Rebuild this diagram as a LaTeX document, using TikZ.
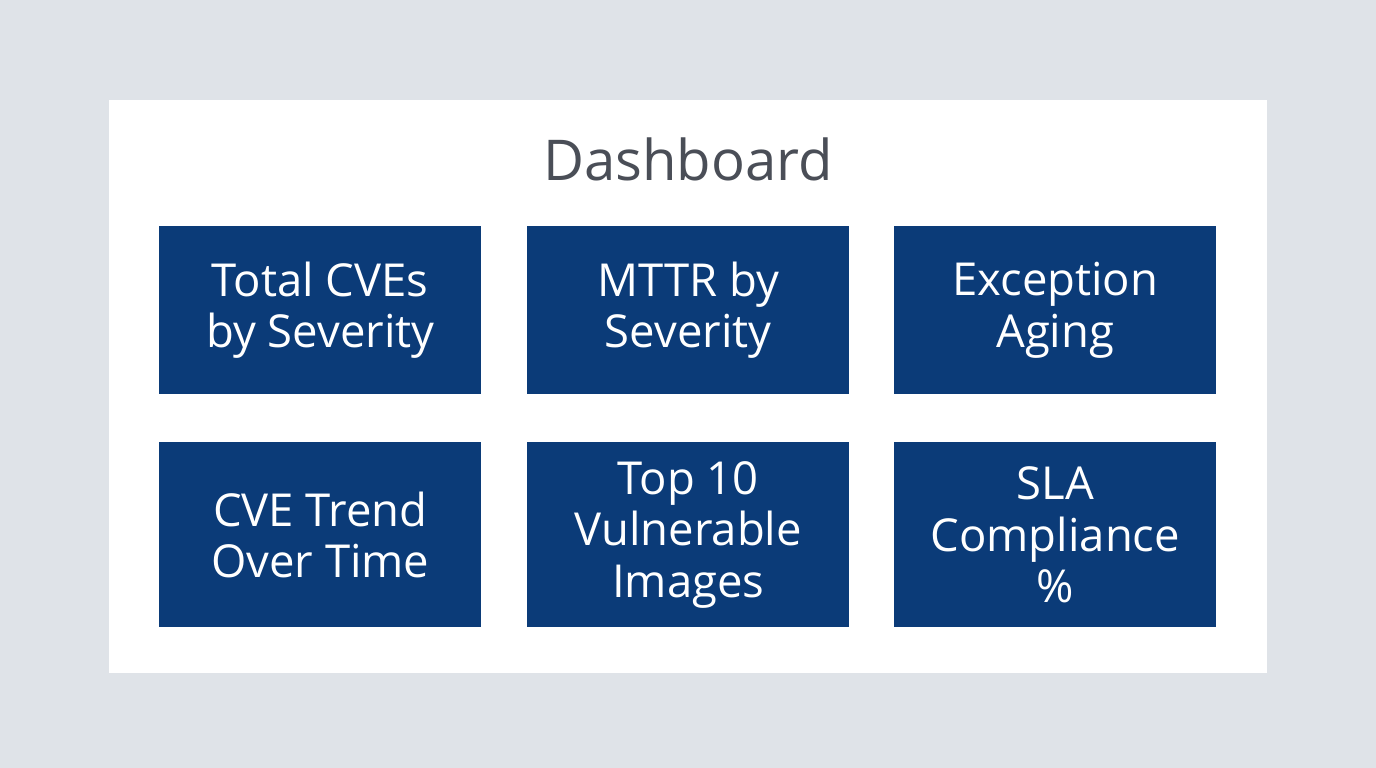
\documentclass[tikz,border=0pt]{standalone}
\usepackage{fontspec}
\setmainfont{Open Sans}
\definecolor{bgc}{HTML}{DFE3E8}
\definecolor{navy}{HTML}{0B3B78}
\definecolor{titlec}{HTML}{4A4E57}
\begin{document}
\begin{tikzpicture}[x=0.025cm,y=-0.025cm,
  tile/.style={fill=navy, draw=none, minimum width=322*0.025cm, text=white,
    align=center, font=\fontsize{32.3}{36.5}\selectfont, inner sep=0pt, anchor=north west}]
\fill[bgc] (0,0) rectangle (1376,768);
\useasboundingbox (0,0) rectangle (1376,768);
\fill[white] (109,100) rectangle (1267,673);
\node[text=titlec, font=\fontsize{40}{46}\selectfont] (title) at (688,159) {Dashboard};
\node[tile, minimum height=168*0.025cm] (t1) at (159,226) {Total CVEs\\by Severity};
\node[tile, minimum height=168*0.025cm] (t2) at (527,226) {MTTR by\\Severity};
\node[tile, minimum height=168*0.025cm] (t3) at (894,226) {Exception\\Aging};
\node[tile, minimum height=185*0.025cm] (t4) at (159,442) {CVE Trend\\Over Time};
\node[tile, minimum height=185*0.025cm] (t5) at (527,442) {Top 10\\Vulnerable\\Images};
\node[tile, minimum height=185*0.025cm] (t6) at (894,442) {SLA\\Compliance\\\%};
\end{tikzpicture}
\end{document}
